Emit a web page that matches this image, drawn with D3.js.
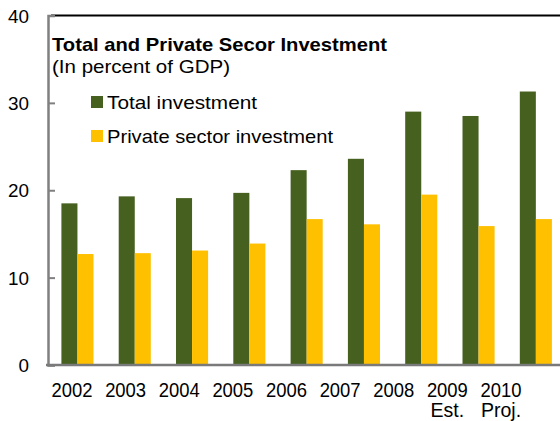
<!DOCTYPE html>
<html>
<head>
<meta charset="utf-8">
<script src="https://cdn.jsdelivr.net/npm/d3@7"></script>
<style>
  html, body { margin: 0; padding: 0; background: #fff; }
  svg { display: block; font-family: "Liberation Sans", Arial, sans-serif; }
</style>
</head>
<body>
<svg id="chart" width="560" height="421"></svg>
<script>
// Investment as a share of GDP, 2002-2010
const years = ["2002", "2003", "2004", "2005", "2006", "2007", "2008", "2009", "2010"];
const yearNotes = ["", "", "", "", "", "", "", "Est.", "Proj."];
const totalInvestment = [18.5, 19.3, 19.1, 19.7, 22.3, 23.6, 29.0, 28.5, 31.3];
const privateInvestment = [12.7, 12.8, 13.1, 13.9, 16.7, 16.1, 19.5, 15.9, 16.7];
const seriesNames = ["Total investment", "Private sector investment"];
const seriesColors = ["#45601f", "#ffc000"];
const yTicks = [0, 10, 20, 30, 40];

const svg = d3.select("#chart");

const y = d3.scaleLinear().domain([0, 40]).range([365, 15.5]);

// bar groups: 9 equal slots, bars centred in each slot
const x0 = d3.scaleBand().domain(years)
  .range([48.8, 564.5]).paddingInner(0.44).paddingOuter(0.22);
const x1 = d3.scaleBand().domain(seriesNames).range([0, x0.bandwidth()]);

// category labels sit on their own, slightly tighter spacing
const xLabel = d3.scalePoint().domain(years).range([71.5, 500.5]);

const rows = years.map((yr, i) => ({
  year: yr,
  values: [
    { name: seriesNames[0], value: totalInvestment[i] },
    { name: seriesNames[1], value: privateInvestment[i] }
  ]
}));
const color = d3.scaleOrdinal().domain(seriesNames).range(seriesColors);

// bars
svg.append("g").selectAll("g")
  .data(rows).join("g")
  .attr("transform", d => `translate(${x0(d.year)},0)`)
  .selectAll("rect")
  .data(d => d.values).join("rect")
  .attr("x", d => x1(d.name))
  .attr("y", d => y(d.value))
  .attr("width", x1.bandwidth())
  .attr("height", d => y(0) - y(d.value))
  .attr("fill", d => color(d.name));

// top border line
svg.append("line")
  .attr("x1", 51).attr("x2", 560)
  .attr("y1", y(40)).attr("y2", y(40))
  .attr("stroke", "#000").attr("stroke-width", 2);

// left value axis, ticks pointing into the plot
const yAxis = svg.append("g")
  .attr("transform", "translate(48,0)")
  .call(d3.axisRight(y).tickValues(yTicks).tickSize(7).tickFormat(""));
yAxis.select(".domain").attr("stroke", "#808080").attr("stroke-width", 2.5);
yAxis.selectAll(".tick line").attr("stroke", "#808080").attr("stroke-width", 2);

svg.append("g").selectAll("text")
  .data(yTicks).join("text")
  .attr("x", 29)
  .attr("y", d => y(d) + 7)
  .attr("text-anchor", "end")
  .attr("font-size", 19)
  .attr("textLength", d => String(d).length * 10.5)
  .attr("lengthAdjust", "spacingAndGlyphs")
  .attr("fill", "#000")
  .text(d => d);

// category axis baseline
svg.append("line")
  .attr("x1", 46).attr("x2", 560)
  .attr("y1", y(0)).attr("y2", y(0))
  .attr("stroke", "#7a7a7a").attr("stroke-width", 2.5);

// category labels
const xAxis = svg.append("g")
  .attr("transform", `translate(0,${y(0)})`)
  .call(d3.axisBottom(xLabel).tickSize(0).tickPadding(0));
xAxis.select(".domain").remove();
xAxis.selectAll(".tick text")
  .attr("dy", null)
  .attr("y", 32)
  .attr("font-size", 19.5)
  .attr("textLength", 41)
  .attr("lengthAdjust", "spacingAndGlyphs")
  .attr("font-family", "'Liberation Sans', Arial, sans-serif")
  .attr("fill", "#000");
xAxis.selectAll(".tick").append("text")
  .attr("y", 52)
  .attr("text-anchor", "middle")
  .attr("font-size", 19.5)
  .attr("font-family", "'Liberation Sans', Arial, sans-serif")
  .attr("fill", "#000")
  .text(d => yearNotes[years.indexOf(d)]);

// title block
svg.append("text")
  .attr("x", 52).attr("y", 51)
  .attr("font-size", 19).attr("font-weight", "bold")
  .attr("textLength", 335).attr("lengthAdjust", "spacingAndGlyphs")
  .text("Total and Private Secor Investment");
svg.append("text")
  .attr("x", 52).attr("y", 73)
  .attr("font-size", 19)
  .attr("textLength", 178).attr("lengthAdjust", "spacingAndGlyphs")
  .text("(In percent of GDP)");

// legend
const legendLengths = [150, 226];
const legend = svg.append("g").selectAll("g")
  .data(seriesNames).join("g")
  .attr("transform", (d, i) => `translate(91,${96 + i * 34})`);
legend.append("rect")
  .attr("width", 12).attr("height", 12)
  .attr("fill", d => color(d));
legend.append("text")
  .attr("x", 16).attr("y", 12.5)
  .attr("font-size", 18.5)
  .attr("textLength", (d, i) => legendLengths[i])
  .attr("lengthAdjust", "spacingAndGlyphs")
  .text(d => d);
</script>
</body>
</html>
